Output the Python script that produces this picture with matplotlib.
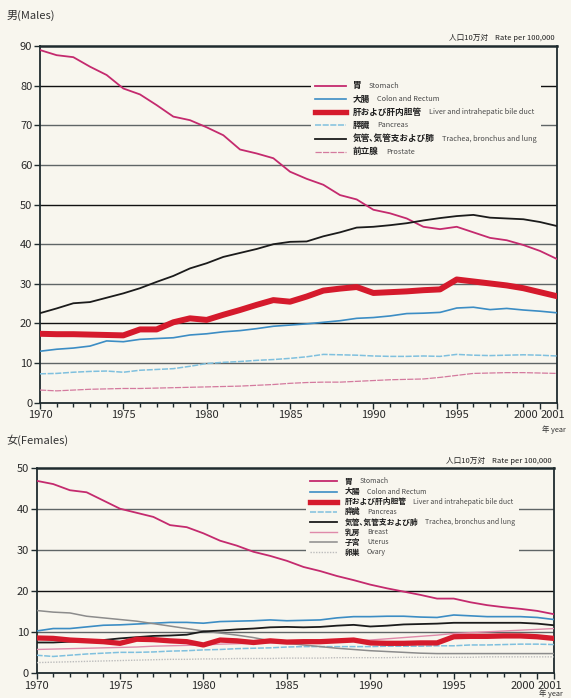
#!/usr/bin/env python3
"""Cancer mortality rates by site, Japan 1970-2001 (males / females)."""

import matplotlib

matplotlib.use("Agg")
import matplotlib.pyplot as plt
import matplotlib.transforms as mtransforms
from matplotlib.lines import Line2D
from matplotlib.offsetbox import AnchoredOffsetbox, DrawingArea, HPacker, TextArea, VPacker

plt.rcParams["font.family"] = ["Noto Sans CJK JP", "DejaVu Sans"]

years = list(range(1970, 2002))

# males, rate per 100,000
male_stomach = [89.0, 87.7, 87.2, 84.8, 82.7, 79.3, 77.8, 75.1, 72.2, 71.3, 69.5, 67.5, 63.9, 62.9, 61.7, 58.3,
                56.5, 55.0, 52.4, 51.3, 48.7, 47.8, 46.5, 44.4, 43.8, 44.4, 43.0, 41.6, 41.0, 39.8, 38.3, 36.3]
male_colon = [13.0, 13.5, 13.8, 14.3, 15.6, 15.4, 16.0, 16.2, 16.4, 17.1, 17.4, 17.9, 18.2, 18.7, 19.3, 19.6,
              19.9, 20.3, 20.7, 21.3, 21.5, 21.9, 22.5, 22.6, 22.8, 23.9, 24.1, 23.5, 23.8, 23.4, 23.1, 22.7]
male_liver = [17.4, 17.3, 17.3, 17.2, 17.1, 17.0, 18.5, 18.5, 20.3, 21.3, 20.9, 22.2, 23.4, 24.7, 25.9, 25.5,
              26.8, 28.3, 28.8, 29.2, 27.7, 27.9, 28.1, 28.4, 28.6, 31.1, 30.6, 30.1, 29.6, 28.9, 27.9, 26.9]
male_pancreas = [7.3, 7.4, 7.7, 7.9, 8.0, 7.7, 8.2, 8.4, 8.6, 9.2, 9.9, 10.2, 10.4, 10.7, 10.9, 11.2,
                 11.6, 12.2, 12.1, 12.0, 11.8, 11.7, 11.7, 11.8, 11.7, 12.2, 12.0, 11.9, 12.0, 12.1, 12.0, 11.8]
male_lung = [22.6, 23.8, 25.1, 25.4, 26.5, 27.6, 28.9, 30.5, 32.0, 33.9, 35.2, 36.8, 37.8, 38.8, 40.0, 40.6,
             40.7, 42.0, 43.0, 44.2, 44.4, 44.8, 45.3, 46.0, 46.6, 47.1, 47.4, 46.7, 46.5, 46.3, 45.6, 44.6]
male_prostate = [3.2, 3.0, 3.2, 3.4, 3.5, 3.6, 3.6, 3.7, 3.8, 3.9, 4.0, 4.1, 4.2, 4.4, 4.6, 4.9,
                 5.1, 5.2, 5.2, 5.4, 5.6, 5.8, 5.9, 6.0, 6.4, 6.9, 7.4, 7.5, 7.6, 7.6, 7.5, 7.4]

# females, rate per 100,000
female_stomach = [46.8, 46.0, 44.5, 44.0, 42.0, 40.0, 39.0, 38.0, 36.0, 35.5, 34.0, 32.2, 31.0, 29.5, 28.5, 27.3,
                  25.8, 24.8, 23.6, 22.6, 21.5, 20.6, 19.8, 19.0, 18.1, 18.1, 17.2, 16.5, 16.0, 15.6, 15.1, 14.3]
female_colon = [10.2, 10.8, 10.8, 11.2, 11.6, 11.7, 11.9, 12.1, 12.3, 12.3, 12.1, 12.5, 12.6, 12.7, 12.9, 12.7,
                12.8, 12.9, 13.4, 13.7, 13.7, 13.8, 13.8, 13.6, 13.5, 14.1, 13.9, 13.7, 13.7, 13.7, 13.5, 13.0]
female_liver = [8.5, 8.4, 8.0, 7.8, 7.6, 7.2, 8.2, 8.1, 7.8, 7.6, 6.8, 8.0, 7.8, 7.4, 7.8, 7.5,
                7.6, 7.6, 7.8, 8.0, 7.3, 7.2, 7.2, 7.3, 7.3, 8.8, 8.9, 8.9, 9.0, 9.0, 8.8, 8.4]
female_pancreas = [4.3, 4.0, 4.3, 4.6, 4.8, 5.0, 5.0, 5.1, 5.3, 5.4, 5.6, 5.7, 5.9, 6.0, 6.1, 6.3,
                   6.4, 6.4, 6.4, 6.4, 6.4, 6.5, 6.5, 6.5, 6.6, 6.6, 6.8, 6.8, 6.9, 7.0, 7.0, 6.9]
female_lung = [7.4, 7.4, 7.6, 7.8, 8.0, 8.4, 8.7, 9.0, 9.1, 9.3, 10.1, 10.3, 10.6, 10.8, 11.1, 11.2,
               11.1, 11.2, 11.5, 11.7, 11.3, 11.5, 11.8, 11.9, 12.0, 12.2, 12.2, 12.2, 12.2, 12.2, 12.0, 11.6]
female_breast = [5.7, 5.8, 5.9, 6.0, 6.1, 6.2, 6.3, 6.5, 6.6, 6.7, 6.8, 7.0, 7.1, 7.2, 7.3, 7.5,
                 7.6, 7.7, 7.8, 7.9, 8.0, 8.3, 8.6, 8.9, 9.2, 9.6, 9.8, 10.0, 10.2, 10.4, 10.6, 10.8]
female_uterus = [15.2, 14.8, 14.6, 13.8, 13.4, 13.0, 12.6, 12.0, 11.4, 10.8, 10.2, 9.7, 9.2, 8.6, 7.8, 7.2,
                 6.8, 6.4, 6.0, 5.7, 5.4, 5.2, 5.0, 4.8, 4.7, 4.7, 4.7, 4.7, 4.7, 4.7, 4.7, 4.7]
female_ovary = [2.5, 2.6, 2.7, 2.8, 2.9, 3.0, 3.1, 3.2, 3.3, 3.3, 3.4, 3.4, 3.5, 3.5, 3.5, 3.6,
                3.6, 3.6, 3.7, 3.7, 3.7, 3.7, 3.8, 3.8, 3.8, 3.8, 3.8, 3.9, 3.9, 3.9, 3.9, 3.9]

year_ticks = [1970, 1975, 1980, 1985, 1990, 1995, 2000, 2001]

BG = "#f8f6ee"
AXIS = "#1f2b2e"

STYLES = {
    "stomach": dict(color="#c42a6e", lw=1.3, ls="-"),
    "colon": dict(color="#3c8dc4", lw=1.2, ls="-"),
    "liver": dict(color="#d51a2c", lw=4.3, ls="-"),
    "pancreas": dict(color="#7fc0de", lw=1.1, ls=(0, (4, 1))),
    "lung": dict(color="#1b1b1b", lw=1.3, ls="-"),
    "prostate": dict(color="#d47a9e", lw=0.9, ls=(0, (5, 1))),
    "breast": dict(color="#df8aaa", lw=1.0, ls="-"),
    "uterus": dict(color="#8c8c8c", lw=1.1, ls="-"),
    "ovary": dict(color="#bcbcbc", lw=1.0, ls=(0, (1, 1))),
}


def _legend_row(key, jp, en, jp_size, en_size, handle_w, row_h):
    style = STYLES[key]
    da = DrawingArea(handle_w, row_h, 0, 0)
    lw = style["lw"] if key != "liver" else style["lw"] * 0.9
    da.add_artist(Line2D([0, handle_w], [row_h / 2, row_h / 2], color=style["color"], lw=lw, ls=style["ls"]))
    jp_box = TextArea(jp, textprops=dict(fontsize=jp_size, fontweight="bold", color="#1e1e1e"))
    en_box = TextArea(en, textprops=dict(fontsize=en_size, color="#4a4a4a"))
    return HPacker(children=[da, jp_box, en_box], align="center", pad=0, sep=5)


def _add_legend(ax, entries, anchor, jp_size, en_size, handle_w, row_h, sep):
    rows = [_legend_row(k, jp, en, jp_size, en_size, handle_w, row_h) for k, jp, en in entries]
    box = VPacker(children=rows, align="left", pad=0, sep=sep)
    anchored = AnchoredOffsetbox(loc="upper left", child=box, pad=0.3, borderpad=0, frameon=True,
                                 bbox_to_anchor=anchor, bbox_transform=ax.transAxes)
    anchored.patch.set_facecolor(BG)
    anchored.patch.set_edgecolor("none")
    anchored.set_zorder(5)
    ax.add_artist(anchored)


def _style_axes(ax, ymax, dark_levels, year_label_y):
    ax.set_facecolor(BG)
    ax.set_xlim(1970, 2001)
    ax.set_ylim(0, ymax)
    ax.set_yticks(range(0, ymax + 1, 10))
    ax.set_xticks(year_ticks)
    ax.set_xticks(years, minor=True)
    ax.tick_params(axis="both", direction="out", length=4, width=1.0, color=AXIS, labelsize=8,
                   labelcolor="#2a2a2a", pad=1.5)
    ax.tick_params(axis="x", which="minor", direction="out", length=3, width=1.0, color=AXIS)
    # pull the crowded 2000 / 2001 labels apart
    labels = ax.get_xticklabels()
    shift_2000 = mtransforms.ScaledTranslation(-10 / 72, 0, ax.figure.dpi_scale_trans)
    shift_2001 = mtransforms.ScaledTranslation(-3 / 72, 0, ax.figure.dpi_scale_trans)
    labels[-2].set_transform(labels[-2].get_transform() + shift_2000)
    labels[-1].set_transform(labels[-1].get_transform() + shift_2001)
    for level in range(10, ymax, 10):
        color = "#111111" if level in dark_levels else "#5f6566"
        ax.axhline(level, color=color, lw=1.0, zorder=1)
    for name, spine in ax.spines.items():
        spine.set_color(AXIS)
        spine.set_linewidth(1.8 if name == "top" else 1.3)
    ax.text(1.018, year_label_y, "年 year", transform=ax.transAxes, ha="right", va="center",
            fontsize=5.3, color="#333333")
    ax.text(0.995, 1.012, "人口10万対    Rate per 100,000", transform=ax.transAxes, ha="right",
            va="bottom", fontsize=5.5, color="#222222")


fig = plt.figure(figsize=(5.71, 6.98), dpi=100)
fig.patch.set_facecolor(BG)

ax_m = fig.add_axes([0.070, 0.423, 0.905, 0.511])
ax_f = fig.add_axes([0.064, 0.036, 0.906, 0.294])

male_series = [
    ("stomach", male_stomach), ("colon", male_colon), ("pancreas", male_pancreas),
    ("prostate", male_prostate), ("lung", male_lung), ("liver", male_liver),
]
for key, values in male_series:
    ax_m.plot(years, values, zorder=3, solid_joinstyle="round", **STYLES[key])

female_series = [
    ("stomach", female_stomach), ("colon", female_colon), ("pancreas", female_pancreas),
    ("ovary", female_ovary), ("uterus", female_uterus), ("breast", female_breast),
    ("lung", female_lung), ("liver", female_liver),
]
for key, values in female_series:
    style = dict(STYLES[key])
    if key == "liver":
        style["lw"] = 3.8
    ax_f.plot(years, values, zorder=3, solid_joinstyle="round", **style)

_style_axes(ax_m, 90, (20, 50, 80), -0.075)
_style_axes(ax_f, 50, (20,), -0.1)

_add_legend(ax_m, [
    ("stomach", "胃", "Stomach"),
    ("colon", "大腸", "Colon and Rectum"),
    ("liver", "肝および肝内胆管", "Liver and intrahepatic bile duct"),
    ("pancreas", "膵臓", "Pancreas"),
    ("lung", "気管､気管支および肺", "Trachea, bronchus and lung"),
    ("prostate", "前立腺", "Prostate"),
], (0.525, 0.915), 6.2, 5.3, 22, 7.5, 2.0)

_add_legend(ax_f, [
    ("stomach", "胃", "Stomach"),
    ("colon", "大腸", "Colon and Rectum"),
    ("liver", "肝および肝内胆管", "Liver and intrahepatic bile duct"),
    ("pancreas", "膵臓", "Pancreas"),
    ("lung", "気管､気管支および肺", "Trachea, bronchus and lung"),
    ("breast", "乳房", "Breast"),
    ("uterus", "子宮", "Uterus"),
    ("ovary", "卵巣", "Ovary"),
], (0.52, 0.975), 5.6, 5.0, 20, 5.8, 0.8)

fig.text(0.012, 0.978, "男(Males)", fontsize=8, color="#333333", va="center")
fig.text(0.012, 0.370, "女(Females)", fontsize=8, color="#333333", va="center")

fig.savefig("out.png", dpi=100, facecolor=BG)
